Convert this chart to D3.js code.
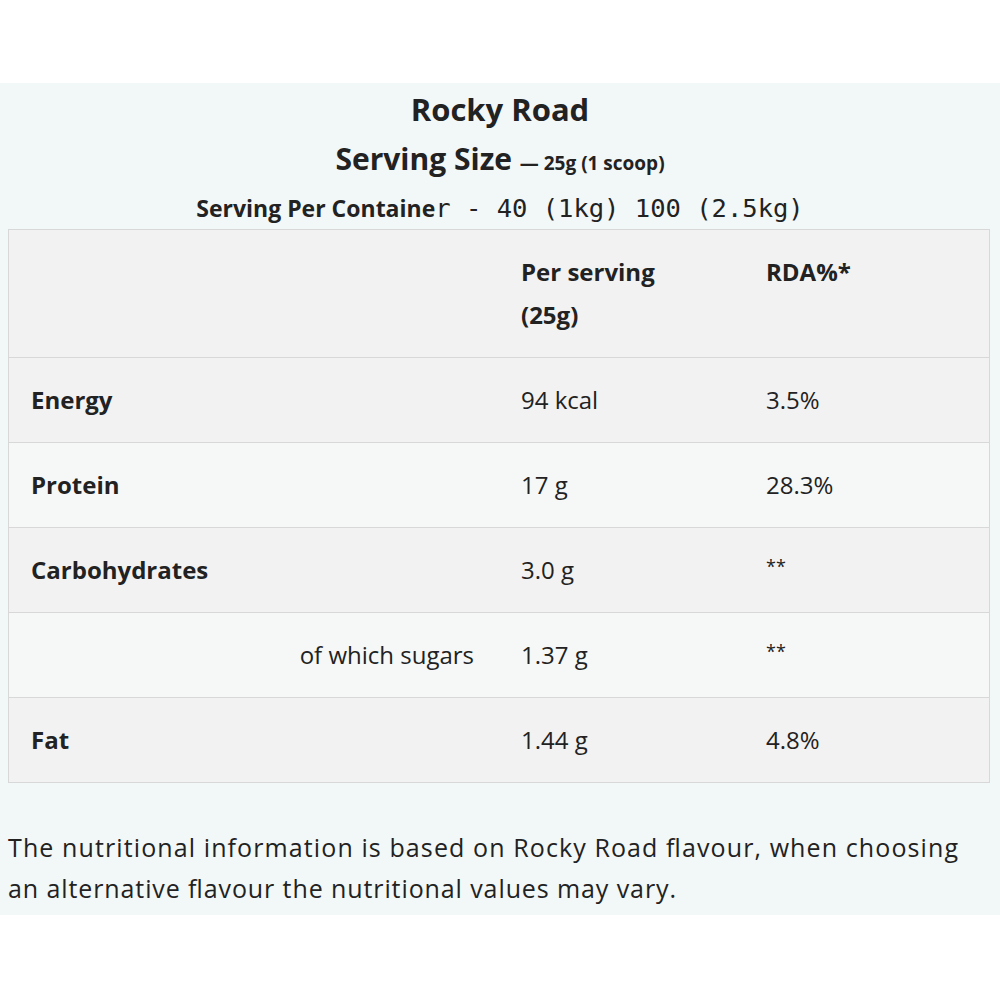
<!DOCTYPE html><html><head><meta charset="utf-8">
<script src="https://cdn.jsdelivr.net/npm/d3@7"></script>
<style>body{margin:0;background:#fff}</style></head><body>
<script>
const nutrients = ["Energy","Protein","Carbohydrates","of which sugars","Fat"];
const perServing = ["94 kcal","17 g","3.0 g","1.37 g","1.44 g"];
const rda = ["3.5%","28.3%","**","**","4.8%"];
const headers = ["Per serving","RDA%*"];
const subRow = [false,false,false,true,false];

const svg = d3.select("body").append("svg").attr("width",1000).attr("height",1000);
const font = "'Open Sans', 'Noto Sans', sans-serif";
svg.append("rect").attr("x",0).attr("y",83).attr("width",1000).attr("height",832).attr("fill","#f2f7f7");

const t = svg.append("g").attr("font-family",font).attr("fill","#222");
t.append("text").attr("x",500).attr("y",121).attr("text-anchor","middle").attr("font-size",31).attr("font-weight",700).attr("fill","#222").text("Rocky Road");
const l2 = t.append("text").attr("x",500).attr("y",170).attr("text-anchor","middle").attr("fill","#222");
l2.append("tspan").attr("font-size",30).attr("font-weight",700).text("Serving Size ");
l2.append("tspan").attr("font-size",19).attr("font-weight",700).text("— 25g (1 scoop)");
const l3 = t.append("text").attr("x",500).attr("y",217).attr("text-anchor","middle").attr("fill","#222");
l3.append("tspan").attr("font-size",23).attr("font-weight",700).text("Serving Per Containe");
l3.append("tspan").attr("font-size",25.5).attr("font-family","'DejaVu Sans Mono', monospace").text("r - 40 (1kg) 100 (2.5kg)");

const rowsY = d3.scaleOrdinal().domain(["h",...nutrients]).range([229,357,442,527,612,697]);
const rowH = ["h",...nutrients].map((d,i)=> i==0?128:85);
const fills = ["#f2f2f2","#f3f2f2","#f6f8f8","#f3f2f2","#f6f8f8","#f2f2f2"];
const tb = svg.append("g");
["h",...nutrients].forEach((d,i)=>{
  tb.append("rect").attr("x",8.5).attr("y",rowsY(d)+0.5).attr("width",981).attr("height",rowH[i]).attr("fill",fills[i]).attr("stroke","#d8d8d8");
});
const g = svg.append("g").attr("font-family",font).attr("font-size",24).attr("fill","#222");
g.append("text").attr("x",521).attr("y",281).attr("font-weight",700).text(headers[0]);
g.append("text").attr("x",521).attr("y",324).attr("font-weight",700).text("(25g)");
g.append("text").attr("x",766).attr("y",281).attr("font-weight",700).text(headers[1]);
nutrients.forEach((n,i)=>{
  const y = rowsY(n)+52;
  g.append("text").attr("x",subRow[i]?474:31).attr("text-anchor",subRow[i]?"end":"start").attr("y",y).attr("font-weight",subRow[i]?400:700).text(n);
  g.append("text").attr("x",521).attr("y",y).text(perServing[i]);
  g.append("text").attr("x",766).attr("y",rda[i]=="**"?y-6:y).attr("font-size",rda[i]=="**"?18:24).text(rda[i]);
});
const f = svg.append("g").attr("font-family",font).attr("font-size",25).attr("fill","#222");
f.append("text").attr("x",8).attr("y",857).attr("textLength",950).attr("lengthAdjust","spacing").text("The nutritional information is based on Rocky Road flavour, when choosing");
f.append("text").attr("x",8).attr("y",898).attr("textLength",668).attr("lengthAdjust","spacing").text("an alternative flavour the nutritional values may vary.");
</script></body></html>
